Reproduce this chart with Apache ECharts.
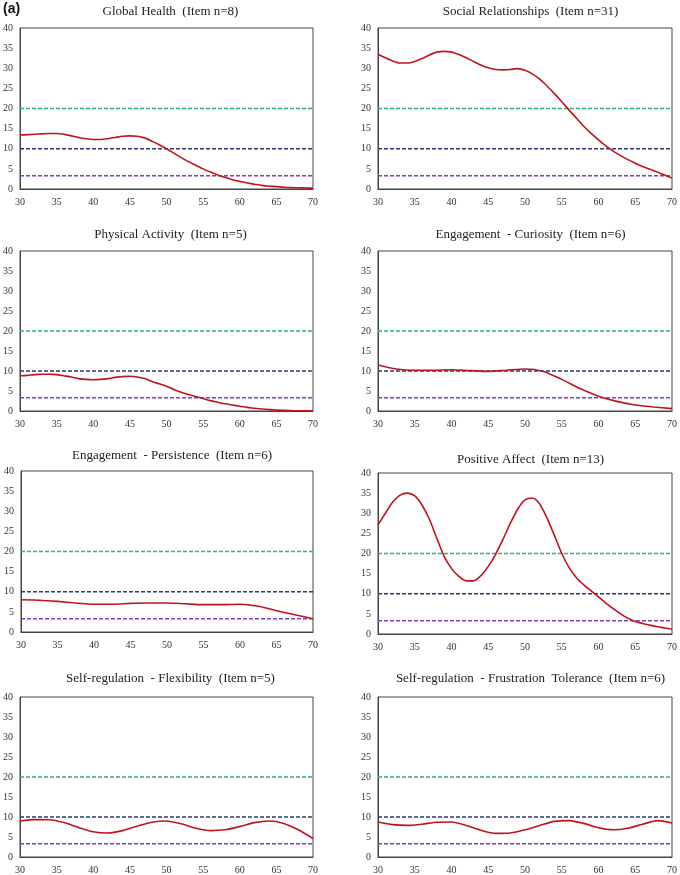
<!DOCTYPE html>
<html>
<head>
<meta charset="utf-8">
<script src="https://cdn.jsdelivr.net/npm/echarts@6/dist/echarts.min.js"></script>
<style>
html,body{margin:0;padding:0;background:#fff;}
#main{width:680px;height:875px;}
</style>
</head>
<body>
<div id="main"></div>
<script>
// ---- DATA ----
var panelTitles = [
  "Global Health  (Item n=8)",
  "Social Relationships  (Item n=31)",
  "Physical Activity  (Item n=5)",
  "Engagement  - Curiosity  (Item n=6)",
  "Engagement  - Persistence  (Item n=6)",
  "Positive Affect  (Item n=13)",
  "Self-regulation  - Flexibility  (Item n=5)",
  "Self-regulation  - Frustration  Tolerance  (Item n=6)"
];
var xTicks = [30, 35, 40, 45, 50, 55, 60, 65, 70];
var yTicks = [0, 5, 10, 15, 20, 25, 30, 35, 40];
var refLevels = [20, 10, 3.3];

var step1X = [30,31,32,33,34,35,36,37,38,39,40,41,42,43,44,45,46,47,48,49,50,51,52,53,54,55,56,57,58,59,60,61,62,63,64,65,66,67,68,69,70];
var step2X = [30,32,34,36,38,40,42,44,46,48,50,52,54,56,58,60,62,64,66,68,70];
var step25X = [30,32.5,35,37.5,40,42.5,45,47.5,50,52.5,55,57.5,60,62.5,65,67.5,70];

var globalHealthX = step1X;
var globalHealthY = [13.4,13.5,13.6,13.7,13.8,13.8,13.6,13.2,12.8,12.5,12.3,12.3,12.5,12.8,13.1,13.2,13.1,12.7,11.9,11.0,10.0,8.9,7.8,6.8,5.9,5.0,4.2,3.5,2.9,2.3,1.9,1.5,1.2,0.9,0.7,0.6,0.45,0.35,0.3,0.25,0.2];

var socialX = step1X;
var socialY = [33.5,32.6,31.8,31.3,31.3,31.7,32.4,33.3,34.0,34.2,34.0,33.4,32.6,31.7,30.8,30.1,29.7,29.6,29.7,29.9,29.5,28.6,27.3,25.6,23.7,21.7,19.6,17.6,15.6,13.8,12.2,10.7,9.4,8.3,7.3,6.4,5.6,4.9,4.2,3.5,2.7];

var physicalX = step1X;
var physicalY = [8.8,8.9,9.1,9.2,9.2,9.1,8.8,8.5,8.1,7.9,7.8,7.9,8.1,8.4,8.6,8.7,8.5,8.1,7.4,6.8,6.2,5.4,4.7,4.1,3.6,3.1,2.6,2.2,1.8,1.5,1.2,0.9,0.7,0.5,0.35,0.25,0.15,0.1,0.05,0.03,0.02];

var curiosityX = step25X;
var curiosityY = [11.5,10.5,10.2,10.2,10.3,10.1,9.9,10.2,10.5,9.9,7.9,5.6,3.7,2.4,1.5,1.0,0.6];

var persistenceX = step25X;
var persistenceY = [8.0,7.9,7.6,7.2,6.9,6.9,7.1,7.2,7.2,7.0,6.8,6.8,6.9,6.4,5.3,4.3,3.3];

var positiveX = step1X;
var positiveY = [27.1,30.0,32.8,34.5,35.0,34.3,32.0,28.5,23.8,19.3,16.3,14.3,13.2,13.2,14.5,16.8,19.8,23.5,27.5,31.0,33.3,33.8,32.3,28.8,24.5,20.0,16.5,14.0,12.2,10.7,9.2,7.7,6.3,5.0,3.9,3.1,2.6,2.2,1.8,1.5,1.2];

var flexibilityX = step2X;
var flexibilityY = [9.0,9.35,9.3,8.6,7.4,6.3,6.0,6.6,7.7,8.7,9.0,8.3,7.2,6.6,6.8,7.6,8.6,9.0,8.4,6.8,4.6];

var frustrationX = step2X;
var frustrationY = [8.75,8.1,7.9,8.2,8.7,8.75,7.9,6.7,5.9,6.0,6.8,7.9,8.9,9.1,8.4,7.3,6.8,7.2,8.2,9.1,8.5];

// ---- LAYOUT ----
var seriesX = [globalHealthX, socialX, physicalX, curiosityX, persistenceX, positiveX, flexibilityX, frustrationX];
var seriesY = [globalHealthY, socialY, physicalY, curiosityY, persistenceY, positiveY, flexibilityY, frustrationY];
var grids = [
  {left:18, top:28, width:295, height:161},
  {left:378, top:28, width:295, height:161},
  {left:18, top:251, width:295, height:160},
  {left:378, top:251, width:295, height:160},
  {left:21, top:471, width:292, height:161},
  {left:378, top:473, width:295, height:161},
  {left:18, top:697, width:295, height:160},
  {left:378, top:697, width:295, height:160}
];
var titleTops = [0, 0, 223, 223, 444, 448, 667, 667];
var refColors = ['#2db37c', '#2b3a6b', '#8040b8'];

var option = {
  animation: false,
  backgroundColor: '#fff',
  title: [],
  grid: [],
  xAxis: [],
  yAxis: [],
  series: [],
  graphic: [{
    type: 'text', left: 3, top: 2,
    style: {text: '(a)', font: 'bold 14px "Liberation Sans", Arial, sans-serif', fill: '#111'}
  }]
};

var serif = '"Liberation Serif", "Times New Roman", serif';
for (var i = 0; i < 8; i++) {
  var g = grids[i];
  option.grid.push({left: g.left, top: g.top, width: g.width, height: g.height,
    show: true, borderColor: '#444', borderWidth: 1, backgroundColor: 'transparent'});
  option.title.push({
    text: panelTitles[i],
    left: g.left + g.width / 2, top: titleTops[i], textAlign: 'center',
    textStyle: {fontFamily: serif, fontSize: 13, fontWeight: 'normal', color: '#222'}
  });
  option.xAxis.push({
    type: 'value', gridIndex: i, min: xTicks[0], max: xTicks[xTicks.length - 1], interval: 5,
    axisLine: {show: true, lineStyle: {color: '#444'}}, axisTick: {show: false}, splitLine: {show: false},
    axisLabel: {fontFamily: serif, fontSize: 10, color: '#333', margin: 8}
  });
  option.yAxis.push({
    type: 'value', gridIndex: i, min: yTicks[0], max: yTicks[yTicks.length - 1], interval: 5,
    axisLine: {show: true, lineStyle: {color: '#444'}}, axisTick: {show: false}, splitLine: {show: false},
    axisLabel: {fontFamily: serif, fontSize: 10, color: '#333', margin: 7}
  });
  for (var r = 0; r < refLevels.length; r++) {
    option.series.push({
      type: 'line', xAxisIndex: i, yAxisIndex: i, symbol: 'none', silent: true,
      data: [[xTicks[0], refLevels[r]], [xTicks[xTicks.length - 1], refLevels[r]]],
      lineStyle: {color: refColors[r], width: 1.5, type: [4, 2]}, z: 2
    });
  }
  var pts = [];
  for (var k = 0; k < seriesX[i].length; k++) pts.push([seriesX[i][k], seriesY[i][k]]);
  option.series.push({
    type: 'line', xAxisIndex: i, yAxisIndex: i, symbol: 'none', smooth: 0.25,
    data: pts, lineStyle: {color: '#c0141c', width: 1.6}, z: 3
  });
}

var chart = echarts.init(document.getElementById('main'), null, {renderer: 'canvas'});
chart.setOption(option);
</script>
</body>
</html>
